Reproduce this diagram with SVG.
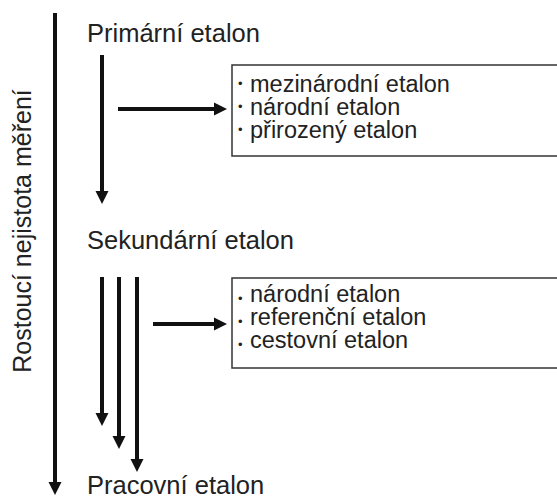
<svg xmlns="http://www.w3.org/2000/svg" width="557" height="497" viewBox="0 0 557 497">
<style>
text{font-family:"Liberation Sans",Arial,sans-serif;fill:#222}
.t{font-size:25.5px}
.r{font-size:25px}
.i{font-size:23.5px}
.b{font-size:13px}
.ln{stroke:#111;stroke-width:4;fill:none}
.box{fill:#fff;stroke:#333;stroke-width:1.5}
.ah{fill:#111}
</style>
<defs>
<marker id="arr" markerUnits="userSpaceOnUse" markerWidth="14" markerHeight="14" viewBox="0 0 14 14" refX="2" refY="7" orient="auto">
<path d="M0,0.5 L13,7 L0,13.5 Z" class="ah"/>
</marker>
</defs>
<rect width="557" height="497" fill="#fff"/>
<g id="axis">
<line x1="55" y1="13" x2="55" y2="484" class="ln" marker-end="url(#arr)"/>
<text class="r" transform="translate(31,231) rotate(-90)" text-anchor="middle">Rostoucí nejistota měření</text>
</g>
<g id="primary"><text class="t" x="87" y="42">Primární etalon</text></g>
<g id="secondary"><text class="t" x="87" y="249">Sekundární etalon</text></g>
<g id="working"><text class="t" x="87" y="494">Pracovní etalon</text></g>
<g id="box1">
<rect class="box" x="232" y="65" width="330" height="91"/>
<text class="b" x="238" y="88">•</text><text class="i" x="250" y="92">mezinárodní etalon</text>
<text class="b" x="238" y="111">•</text><text class="i" x="250" y="115">národní etalon</text>
<text class="b" x="238" y="134">•</text><text class="i" x="250" y="138">přirozený etalon</text>
</g>
<g id="box2">
<rect class="box" x="232" y="278" width="330" height="90"/>
<text class="b" x="238" y="303">•</text><text class="i" x="250" y="302">národní etalon</text>
<text class="b" x="238" y="326">•</text><text class="i" x="250" y="325">referenční etalon</text>
<text class="b" x="238" y="349">•</text><text class="i" x="250" y="348">cestovní etalon</text>
</g>
<g id="connectors">
<line x1="102" y1="55" x2="102" y2="193" class="ln" marker-end="url(#arr)"/>
<line x1="118" y1="109" x2="216" y2="109" class="ln" marker-end="url(#arr)"/>
<line x1="102" y1="277" x2="102" y2="415" class="ln" marker-end="url(#arr)"/>
<line x1="119" y1="277" x2="119" y2="438" class="ln" marker-end="url(#arr)"/>
<line x1="137" y1="277" x2="137" y2="461" class="ln" marker-end="url(#arr)"/>
<line x1="153" y1="324" x2="216" y2="324" class="ln" marker-end="url(#arr)"/>
</g>
</svg>
